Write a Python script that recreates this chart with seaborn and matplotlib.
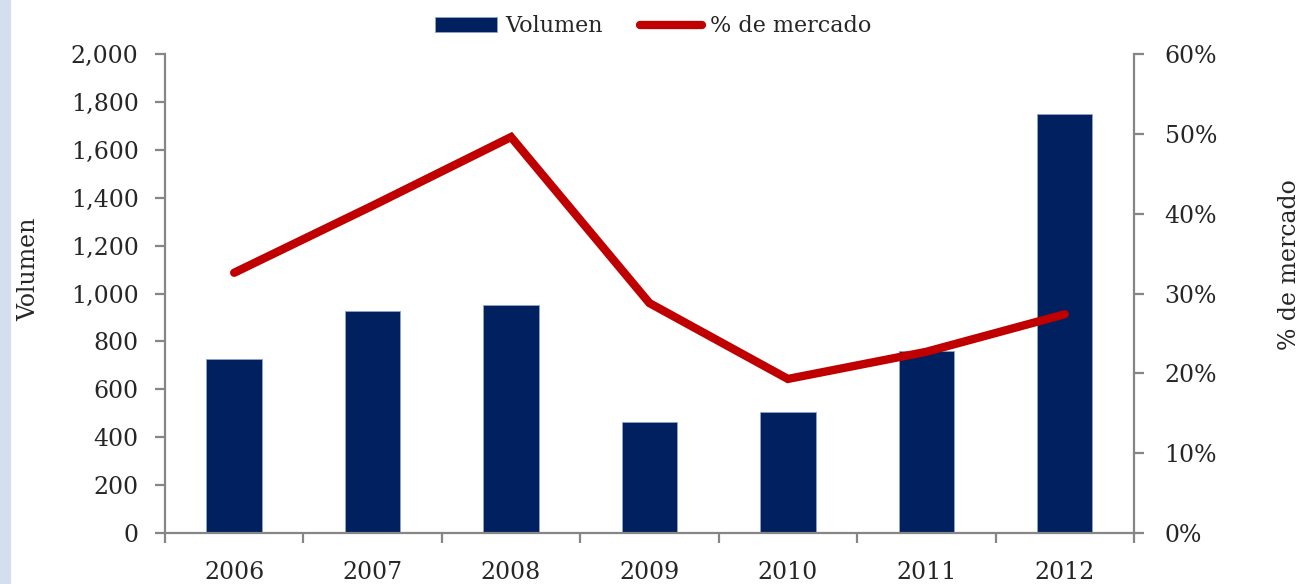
import matplotlib
matplotlib.use("Agg")
import matplotlib.pyplot as plt
import matplotlib.ticker as mticker
from matplotlib.patches import Rectangle
import seaborn as sns
import pandas as pd

years = ["2006", "2007", "2008", "2009", "2010", "2011", "2012"]
volumen = [727, 927, 952, 463, 505, 760, 1749]
mercado = [0.326, 0.410, 0.496, 0.288, 0.193, 0.227, 0.274]

df = pd.DataFrame({"year": years, "volumen": volumen, "mercado": mercado})

sns.set_style("white")
plt.rcParams["font.family"] = ["DejaVu Serif", "Liberation Serif"]

navy = "#002060"
red = "#C00000"
grey = "#868686"
fs = 17

fig = plt.figure(figsize=(13.04, 5.84), dpi=100)
ax = fig.add_axes([0.1265, 0.0873, 0.7431, 0.8202])

sns.barplot(data=df, x="year", y="volumen", color=navy, width=0.4,
            saturation=1, edgecolor="#8EA4C8", linewidth=0.6, ax=ax,
            label="Volumen")
ax2 = ax.twinx()
sns.pointplot(data=df, x="year", y="mercado", color=red, markers="",
              linewidth=6, ax=ax2, label="% de mercado")
for ln in ax2.lines:
    ln.set_solid_capstyle("round")
    ln.set_solid_joinstyle("miter")

ax.set_xlim(-0.5, len(years) - 0.5)
ax.set_ylim(0, 2000)
ax2.set_ylim(0, 0.6)
ax.set_yticks(range(0, 2001, 200))
ax2.set_yticks([i / 10 for i in range(7)])
ax.yaxis.set_major_formatter(mticker.FuncFormatter(lambda v, p: f"{int(v):,}"))
ax2.yaxis.set_major_formatter(mticker.PercentFormatter(1.0, decimals=0))

ax.set_xticks(range(len(years)))
ax.set_xticklabels(years)
ax.set_xticks([i - 0.5 for i in range(len(years) + 1)], minor=True)

for a in (ax, ax2):
    for s in a.spines.values():
        s.set_visible(False)
ax.spines["left"].set_visible(True)
ax.spines["bottom"].set_visible(True)
ax2.spines["right"].set_visible(True)
for s in (ax.spines["left"], ax.spines["bottom"], ax2.spines["right"]):
    s.set_color(grey)
    s.set_linewidth(1.6)

ax.tick_params(axis="y", which="major", direction="out", length=7, width=1.6,
               color=grey, labelsize=fs, pad=12, left=True)
ax.tick_params(axis="x", which="major", length=0, labelsize=fs, pad=20)
ax.tick_params(axis="x", which="minor", direction="out", length=7, width=1.6,
               color=grey, bottom=True)
ax2.tick_params(axis="y", direction="out", length=7, width=1.6, color=grey,
                labelsize=fs, pad=15, right=True)

ax.set_xlabel("")
ax.set_ylabel("Volumen", fontsize=fs)
ax2.set_ylabel("% de mercado", fontsize=fs)
ax.yaxis.set_label_coords(-0.129, 0.55)
ax2.yaxis.set_label_coords(1.1486, 0.56)
ax.grid(False)
ax2.grid(False)

h1, l1 = ax.get_legend_handles_labels()
h2, l2 = ax2.get_legend_handles_labels()
for a in (ax, ax2):
    if a.get_legend():
        a.get_legend().remove()
fig.legend(h1 + h2, l1 + l2, loc="upper center", bbox_to_anchor=(0.501, 1.008),
           ncol=2, frameon=False, fontsize=16, handlelength=2.8,
           columnspacing=1.7, handletextpad=0.36)

fig.add_artist(Rectangle((0, 0), 0.0075, 1, transform=fig.transFigure,
                         color="#D3DFEF", zorder=-1))

fig.savefig("out.png", dpi=100)
